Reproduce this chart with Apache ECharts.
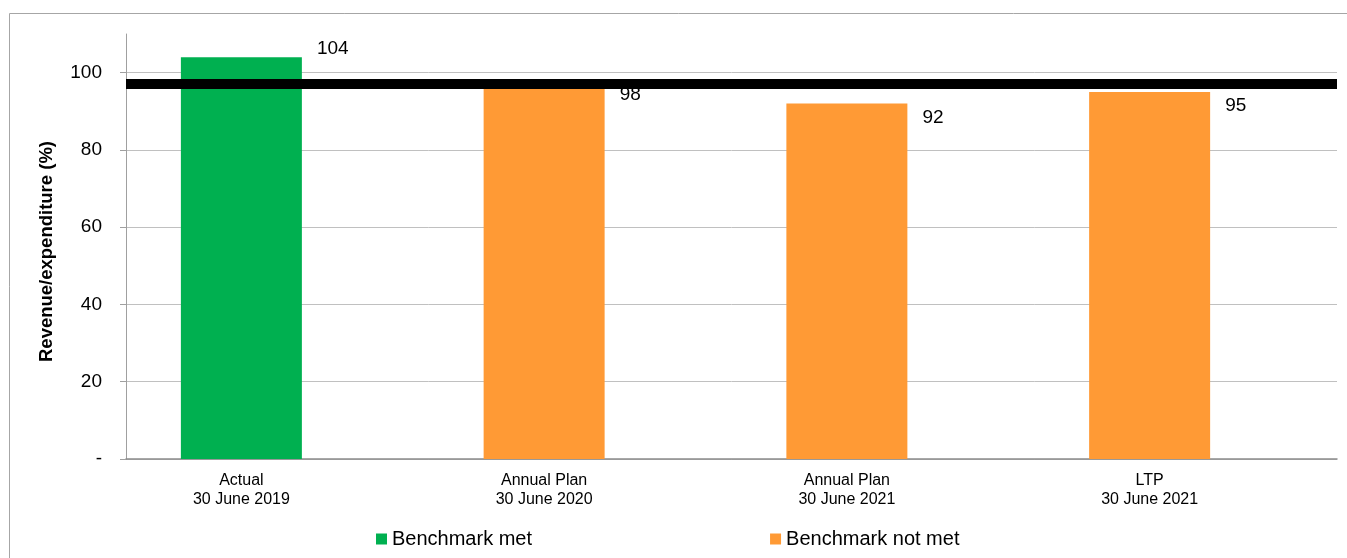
<!DOCTYPE html>
<html>
<head>
<meta charset="utf-8">
<script src="https://cdn.jsdelivr.net/npm/echarts@6/dist/echarts.min.js"></script>
<style>
  html, body { margin: 0; padding: 0; background: #fff; }
  #chart { width: 1347px; height: 558px; }
</style>
</head>
<body>
<div id="chart"></div>
<script>
const categories = ['Actual\n30 June 2019', 'Annual Plan\n30 June 2020', 'Annual Plan\n30 June 2021', 'LTP\n30 June 2021']
const metValues = [104, '-', '-', '-']
const notMetValues = ['-', 98, 92, 95]
const benchmark = 97
const yTicks = [0, 20, 40, 60, 80, 100]

const font = 'Liberation Sans, Arial, sans-serif'

// labels sit right of the bar top; above it only for the bar over 100
function withLabels(values) {
    return values.map(v => {
        if (v === '-') return v
        return {
            value: v,
            label: { offset: [15, v > 100 ? -8 : 14] }
        }
    })
}

const chart = echarts.init(document.getElementById('chart'))
const option = {
    animation: false,
    backgroundColor: '#fff',
    textStyle: { fontFamily: font },
    graphic: [{
        type: 'rect',
        left: 7,
        top: 11,
        shape: { x: 0, y: 0, width: 1400, height: 600 },
        style: { fill: 'none', stroke: '#a6a6a6', lineWidth: 1 },
        z: -1
    }],
    grid: { left: 126, right: 10, top: 34, bottom: 99 },
    legend: {
        data: ['Benchmark met', 'Benchmark not met'],
        left: 371,
        top: 524,
        icon: 'rect',
        itemWidth: 11,
        itemHeight: 11,
        itemGap: 238,
        textStyle: { fontSize: 20, color: '#000', fontFamily: font }
    },
    xAxis: [
        {
            type: 'category',
            data: categories,
            axisLine: { lineStyle: { color: '#8c8c8c', width: 1.5 } },
            axisTick: { show: false },
            axisLabel: {
                color: '#000',
                fontSize: 16,
                lineHeight: 19,
                margin: 12,
                padding: [0, 72, 0, 0],
                interval: 0
            },
            splitLine: { show: false }
        },
        {
            // finer tick marks along the bottom axis
            type: 'category',
            position: 'bottom',
            data: ['', '', '', '', '', '', '', ''],
            axisLine: { show: false },
            axisLabel: { show: false },
            axisTick: { inside: true, length: 4, lineStyle: { color: '#a6a6a6' } },
            splitLine: { show: false }
        }
    ],
    yAxis: {
        type: 'value',
        min: yTicks[0],
        max: 110,
        interval: 20,
        name: 'Revenue/expenditure (%)',
        nameLocation: 'middle',
        nameGap: 70,
        nameTextStyle: { fontSize: 18.5, fontWeight: 'bold', color: '#000', fontFamily: font, padding: [0, 10, 0, 0] },
        axisLine: { show: true, lineStyle: { color: '#a0a0a0' } },
        axisTick: { show: true, length: 6, lineStyle: { color: '#a0a0a0' } },
        axisLabel: {
            color: '#000',
            fontSize: 19,
            margin: 24,
            showMaxLabel: false,
            formatter: v => v === 0 ? '-' : v
        },
        splitLine: { show: true, showMaxLine: false, lineStyle: { color: '#c0c0c0', width: 1 } }
    },
    series: [
        {
            name: 'Benchmark met',
            type: 'bar',
            stack: 'bm',
            barWidth: 121,
            barGap: '-40.5%',
            itemStyle: { color: '#00b050' },
            label: {
                show: true,
                position: ['100%', 0],
                verticalAlign: 'middle',
                align: 'left',
                color: '#000',
                fontSize: 19
            },
            data: withLabels(metValues),
            markLine: {
                silent: true,
                symbol: 'none',
                label: { show: false },
                lineStyle: { color: '#000', width: 10, type: 'solid' },
                data: [{ yAxis: benchmark }],
                z: 10
            }
        },
        {
            name: 'Benchmark not met',
            type: 'bar',
            stack: 'bm',
            barWidth: 121,
            barGap: '-40.5%',
            itemStyle: { color: '#ff9a35' },
            label: {
                show: true,
                position: ['100%', 0],
                verticalAlign: 'middle',
                align: 'left',
                color: '#000',
                fontSize: 19
            },
            data: withLabels(notMetValues)
        },
        {
            // empty slot beside the bars, as in the original layout
            name: 'spacer',
            type: 'bar',
            barWidth: 121,
            barGap: '-40.5%',
            data: ['-', '-', '-', '-']
        }
    ]
}
chart.setOption(option)
</script>
</body>
</html>
